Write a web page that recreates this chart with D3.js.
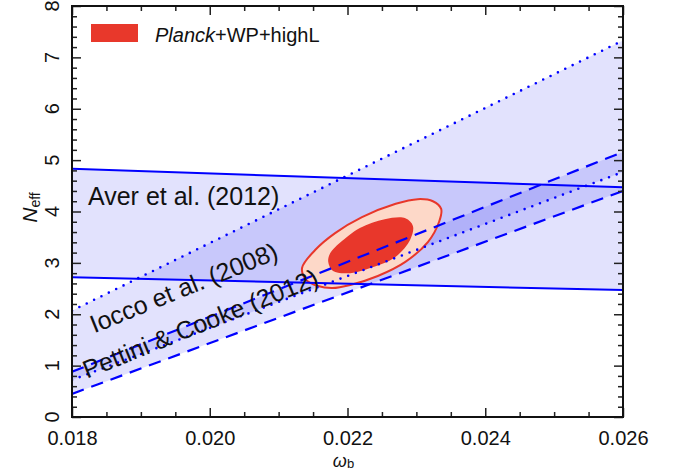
<!DOCTYPE html>
<html>
<head>
<meta charset="utf-8">
<script src="https://cdn.jsdelivr.net/npm/d3@7"></script>
<style>
  html, body { margin: 0; padding: 0; background: #fff; }
  svg { display: block; }
  text { font-family: "Liberation Sans", Arial, sans-serif; fill: #111; }
</style>
</head>
<body>
<svg id="chart" width="680" height="475"></svg>
<script>
// ---------------- data ----------------
const xTickValues = [0.018, 0.020, 0.022, 0.024, 0.026];
const xTickLabels = ["0.018", "0.020", "0.022", "0.024", "0.026"];
const yTickValues = [0, 1, 2, 3, 4, 5, 6, 7, 8];
const yTickLabels = ["0", "1", "2", "3", "4", "5", "6", "7", "8"];

// Aver et al. (2012) band (solid lines)
const averUpper = [[0.018, 4.83], [0.026, 4.47]];
const averLower = [[0.018, 2.72], [0.026, 2.47]];
// Iocco et al. (2008) band (dotted lines)
const ioccoUpper = [[0.018, 2.07], [0.026, 7.33]];
const ioccoLower = [[0.018, 0.72], [0.026, 4.77]];
// Pettini & Cooke (2012) band (dashed lines)
const pettiniUpper = [[0.018, 0.88], [0.026, 5.16]];
const pettiniLower = [[0.018, 0.45], [0.026, 4.40]];

// Planck+WP+highL contours (omega_b, N_eff)
const planckOuter = [
  [0.02134, 2.90], [0.02140, 2.67], [0.02157, 2.55], [0.02178, 2.51],
  [0.02204, 2.57], [0.02244, 2.745], [0.02284, 3.02], [0.02317, 3.41],
  [0.02333, 3.80], [0.02336, 4.05], [0.02324, 4.20], [0.02302, 4.24],
  [0.02270, 4.15], [0.02221, 3.89], [0.02182, 3.58], [0.02153, 3.25]
];
const planckInner = [
  [0.02172, 3.02], [0.02179, 2.84], [0.02204, 2.80], [0.02233, 2.90],
  [0.02269, 3.11], [0.02291, 3.45], [0.02295, 3.72], [0.02284, 3.87],
  [0.02254, 3.85], [0.02218, 3.68], [0.02189, 3.39], [0.02175, 3.19]
];

const bandLabels = [
  { text: "Aver et al. (2012)", x: 0.018232, y: 4.13, angle: 0, anchor: "start" },
  { text: "Iocco et al. (2008)", x: 0.019670, y: 2.36, angle: -22, anchor: "middle" },
  { text: "Pettini & Cooke (2012)", x: 0.019910, y: 1.66, angle: -22, anchor: "middle" }
];
const legendLabel = { italic: "Planck", rest: "+WP+highL" };

// ---------------- chart ----------------
const svg = d3.select("#chart");
const L = 72, R = 623, T = 6, B = 417;
const x = d3.scaleLinear().domain([0.018, 0.026]).range([L, R]);
const y = d3.scaleLinear().domain([0, 8]).range([B, T]);

svg.append("defs").append("clipPath").attr("id", "clip")
  .append("rect").attr("x", L).attr("y", T).attr("width", R - L).attr("height", B - T);

const plot = svg.append("g").attr("clip-path", "url(#clip)");

function band(upper, lower) {
  const pts = upper.concat(lower.slice().reverse());
  return d3.line().x(d => x(d[0])).y(d => y(d[1]))(pts) + "Z";
}
const bandFill = "rgba(0,0,235,0.115)";
plot.append("path").attr("d", band(averUpper, averLower)).attr("fill", bandFill);
plot.append("path").attr("d", band(ioccoUpper, ioccoLower)).attr("fill", bandFill);
plot.append("path").attr("d", band(pettiniUpper, pettiniLower)).attr("fill", bandFill);

const closed = d3.line().x(d => x(d[0])).y(d => y(d[1])).curve(d3.curveCatmullRomClosed.alpha(0.5));
plot.append("path").attr("d", closed(planckOuter))
  .attr("fill", "#fdd8c8").attr("stroke", "#e8372b").attr("stroke-width", 2);
plot.append("path").attr("d", closed(planckInner))
  .attr("fill", "#e8372b");

const line = d3.line().x(d => x(d[0])).y(d => y(d[1]));
const blue = "#0000ff";
[averUpper, averLower].forEach(d => plot.append("path").attr("d", line(d))
  .attr("fill", "none").attr("stroke", blue).attr("stroke-width", 2));
[ioccoUpper, ioccoLower].forEach(d => plot.append("path").attr("d", line(d))
  .attr("fill", "none").attr("stroke", blue).attr("stroke-width", 2.6)
  .attr("stroke-linecap", "round").attr("stroke-dasharray", "0,8.2"));
[pettiniUpper, pettiniLower].forEach(d => plot.append("path").attr("d", line(d))
  .attr("fill", "none").attr("stroke", blue).attr("stroke-width", 2.2)
  .attr("stroke-dasharray", "12.5,8"));

// band labels
bandLabels.forEach(l => {
  svg.append("text")
    .attr("transform", `translate(${x(l.x)},${y(l.y)}) rotate(${l.angle})`)
    .attr("text-anchor", l.anchor)
    .attr("font-size", 25)
    .text(l.text);
});

// ---------------- axes ----------------
const minorX = d3.range(0, 17).map(i => 0.018 + i * 0.0005).filter(v => !xTickValues.some(t => Math.abs(t - v) < 1e-9));
const minorY = d3.range(0, 41).map(i => i * 0.2).filter(v => Math.abs(v - Math.round(v)) > 1e-6);

function styleAxis(g) {
  g.select(".domain").remove();
  g.selectAll(".tick line").attr("stroke", "#222").attr("stroke-width", 1.5);
}

// bottom
svg.append("g").attr("transform", `translate(0,${B})`)
  .call(d3.axisBottom(x).tickValues(xTickValues).tickSize(-9).tickPadding(14)
    .tickFormat((d, i) => xTickLabels[i]))
  .call(styleAxis)
  .call(g => g.selectAll("text").attr("font-size", 20).attr("font-family", "Liberation Sans, Arial, sans-serif").attr("fill", "#111"));
svg.append("g").attr("transform", `translate(0,${B})`)
  .call(d3.axisBottom(x).tickValues(minorX).tickSize(-5).tickFormat(""))
  .call(styleAxis);
// top
svg.append("g").attr("transform", `translate(0,${T})`)
  .call(d3.axisTop(x).tickValues(xTickValues).tickSize(-9).tickFormat(""))
  .call(styleAxis);
svg.append("g").attr("transform", `translate(0,${T})`)
  .call(d3.axisTop(x).tickValues(minorX).tickSize(-5).tickFormat(""))
  .call(styleAxis);
// left
svg.append("g").attr("transform", `translate(${L},0)`)
  .call(d3.axisLeft(y).tickValues(yTickValues).tickSize(-9).tickFormat(""))
  .call(styleAxis);
svg.append("g").attr("transform", `translate(${L},0)`)
  .call(d3.axisLeft(y).tickValues(minorY).tickSize(-5).tickFormat(""))
  .call(styleAxis);
// right
svg.append("g").attr("transform", `translate(${R},0)`)
  .call(d3.axisRight(y).tickValues(yTickValues).tickSize(-9).tickFormat(""))
  .call(styleAxis);
svg.append("g").attr("transform", `translate(${R},0)`)
  .call(d3.axisRight(y).tickValues(minorY).tickSize(-5).tickFormat(""))
  .call(styleAxis);

// rotated y tick labels
svg.append("g").selectAll("text").data(yTickValues).join("text")
  .attr("transform", d => `translate(59,${y(d)}) rotate(-90)`)
  .attr("text-anchor", "middle")
  .attr("font-size", 20)
  .text((d, i) => yTickLabels[i]);

// frame
svg.append("rect").attr("x", L).attr("y", T).attr("width", R - L).attr("height", B - T)
  .attr("fill", "none").attr("stroke", "#111").attr("stroke-width", 2);

// axis titles
const xt = svg.append("text").attr("x", (L + R) / 2 - 4).attr("y", 467).attr("text-anchor", "middle").attr("font-size", 18);
xt.append("tspan").attr("font-style", "italic").text("ω");
xt.append("tspan").attr("font-size", 13).attr("dy", 1).text("b");

const yt = svg.append("text").attr("transform", `translate(37,${(T + B) / 2 - 4}) rotate(-90)`)
  .attr("text-anchor", "middle").attr("font-size", 21);
yt.append("tspan").attr("font-style", "italic").text("N");
yt.append("tspan").attr("font-size", 14).attr("dy", 3).text("eff");

// legend
svg.append("rect").attr("x", 91).attr("y", 24).attr("width", 47).attr("height", 18).attr("fill", "#e8382b");
const lg = svg.append("text").attr("x", 155).attr("y", 42).attr("font-size", 20);
lg.append("tspan").attr("font-style", "italic").text(legendLabel.italic);
lg.append("tspan").text(legendLabel.rest);
</script>
</body>
</html>
